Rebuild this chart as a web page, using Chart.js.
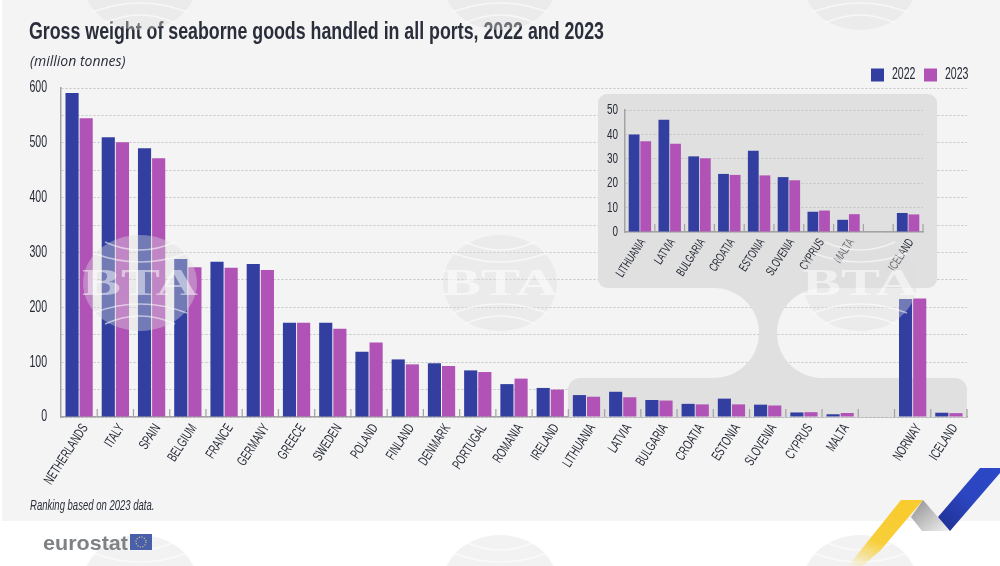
<!DOCTYPE html>
<html lang="en">
<head>
<meta charset="UTF-8">
<title>Gross weight of seaborne goods handled in all ports, 2022 and 2023</title>
<script src="https://cdn.jsdelivr.net/npm/chart.js"></script>
<style>
    html, body { margin: 0; padding: 0; background: #fff; overflow: hidden; }
    body { width: 1000px; height: 566px; position: relative; font-family: "Liberation Sans", sans-serif; color: #2a2e3a; }
    canvas { position: absolute; }
    #mainChart { left: 0; top: 0; }
    #insetChart { left: 599px; top: 94px; }
    .txt { position: absolute; white-space: nowrap; transform-origin: left top; }
    #title { left: 29px; top: 18px; font-size: 23px; font-weight: bold; transform: scaleX(0.773); }
    #unit { left: 30px; top: 51px; font-size: 14px; font-style: italic; font-family: "Open Sans", sans-serif; }
    #note { left: 30px; top: 497px; font-size: 14px; font-style: italic; transform: scaleX(0.68); }
    #overlay { position: absolute; left: 0; top: 0; pointer-events: none; }
</style>
</head>
<body>
<canvas id="mainChart" width="1000" height="566" style="width:1000px;height:566px"></canvas>
<canvas id="insetChart" width="338" height="194" style="width:338px;height:194px"></canvas>
<div class="txt" id="title">Gross weight of seaborne goods handled in all ports, 2022 and 2023</div>
<div class="txt" id="unit">(million tonnes)</div>
<div class="txt" id="note">Ranking based on 2023 data.</div>

<svg id="overlay" width="1000" height="566" viewBox="0 0 1000 566">
    <defs>
        <linearGradient id="fadeYellow" x1="0" y1="1" x2="0.45" y2="0">
            <stop offset="0" stop-color="#f8cf3a" stop-opacity="0"/>
            <stop offset="0.45" stop-color="#f8cf3a"/>
            <stop offset="1" stop-color="#f8cb2e"/>
        </linearGradient>
        <linearGradient id="fadeGray" x1="0" y1="0" x2="1" y2="1">
            <stop offset="0" stop-color="#8f8f8f"/>
            <stop offset="1" stop-color="#f2f2f2"/>
        </linearGradient>
        <linearGradient id="fadeBlue" x1="0" y1="1" x2="1" y2="0">
            <stop offset="0" stop-color="#1f2f8f"/>
            <stop offset="0.5" stop-color="#2c45c0"/>
            <stop offset="1" stop-color="#2c48c8"/>
        </linearGradient>
        <g id="bta">
            <ellipse cx="0" cy="0" rx="57" ry="48" fill="#dcdcdc" fill-opacity="0.38"/>
            <path d="M-35 -41 Q0 -25 35 -41 M-47 -30 Q0 -12 47 -30 M-47 30 Q0 12 47 30 M-35 41 Q0 25 35 41"
                  fill="none" stroke="#fff" stroke-opacity="0.55" stroke-width="1.6"/>
            <text x="0" y="12" text-anchor="middle" font-family="Liberation Serif" font-weight="bold" font-size="38"
                  textLength="116" lengthAdjust="spacingAndGlyphs" fill="#fff" fill-opacity="0.5">BTA</text>
        </g>
    </defs>
    <use href="#bta" x="140" y="-18"/><use href="#bta" x="500" y="-18"/><use href="#bta" x="860" y="-18"/>
    <use href="#bta" x="140" y="283"/><use href="#bta" x="500" y="283"/><use href="#bta" x="860" y="283"/>
    <use href="#bta" x="140" y="583"/><use href="#bta" x="500" y="583"/><use href="#bta" x="860" y="583"/>

    <polygon points="901,500 923,500 880,551 862,566 848,566" fill="url(#fadeYellow)"/>
    <polygon points="923,500 950,531 922,531 911,517" fill="url(#fadeGray)"/>
    <polygon points="980,468 1000,468 1000,473 950,531 938,517" fill="url(#fadeBlue)"/>

    <text x="43" y="550" font-family="Liberation Sans" font-weight="bold" font-size="21" textLength="85" lengthAdjust="spacingAndGlyphs" fill="#7f8285">eurostat</text>
    <rect x="130" y="534" width="22" height="16" fill="#4a5faa"/>
    <circle cx="141" cy="542" r="5" fill="none" stroke="#e3d67a" stroke-width="1.2" stroke-dasharray="1 1.6"/>
</svg>

<script>
    const categories = ['NETHERLANDS', 'ITALY', 'SPAIN', 'BELGIUM', 'FRANCE', 'GERMANY', 'GREECE', 'SWEDEN', 'POLAND', 'FINLAND', 'DENMARK', 'PORTUGAL', 'ROMANIA', 'IRELAND', 'LITHUANIA', 'LATVIA', 'BULGARIA', 'CROATIA', 'ESTONIA', 'SLOVENIA', 'CYPRUS', 'MALTA', '', 'NORWAY', 'ICELAND'];
    const values2022 = [591, 510, 490, 288, 283, 279, 172, 172, 119, 105, 98, 85, 60, 53, 40, 46, 31, 24, 33.5, 22.5, 8.3, 5, null, 215, 7.8];
    const values2023 = [545, 501, 472, 273, 272, 268, 172, 161, 136, 96, 93, 82, 70, 50, 37, 36, 30, 23, 23, 21, 8.8, 7.3, null, 216, 7];

    const insetCategories = ['LITHUANIA', 'LATVIA', 'BULGARIA', 'CROATIA', 'ESTONIA', 'SLOVENIA', 'CYPRUS', 'MALTA', '', 'ICELAND'];
    const insetValues2022 = [40, 46, 31, 23.8, 33.3, 22.5, 8.3, 5, null, 7.8];
    const insetValues2023 = [37.2, 36.2, 30.2, 23.4, 23.2, 21.2, 8.8, 7.3, null, 7.2];

    const seriesNames = ['2022', '2023'];
    const mainTicks = [0, 100, 200, 300, 400, 500, 600];

    const BLUE = '#333fa0';
    const PURPLE = '#b052b6';
    const AXIS = '#a3a3a3';
    const GRID = '#c4c4c4';
    const PANEL = '#f4f4f4';
    const GRAY = '#e0e0e0';
    const FONT = '"Liberation Sans", sans-serif';
    const TEXT = '#262a35';
    const NARROW = 0.66;

    // no condensed font is installed, so squeeze all chart text horizontally
    const narrowText = {
        id: 'narrowText',
        beforeInit(chart) {
            const ctx = chart.ctx;
            const fill = ctx.fillText.bind(ctx);
            const measure = ctx.measureText.bind(ctx);
            ctx.fillText = function (t, x, y) {
                ctx.save();
                ctx.translate(x, y);
                ctx.scale(NARROW, 1);
                fill(t, 0, 0);
                ctx.restore();
            };
            // whole pixels, the legend wraps on rounding errors otherwise
            ctx.measureText = function (t) {
                return { width: Math.ceil(measure(t).width * NARROW) };
            };
        }
    };

    // page panel behind the whole chart
    const panelPlugin = {
        id: 'panel',
        afterLayout(chart) {
            chart.legend.right += 10;
            chart.legend.top += 5;
        },
        beforeDraw(chart) {
            const ctx = chart.ctx;
            ctx.save();
            ctx.fillStyle = PANEL;
            ctx.fillRect(2, 0, 998, 521);
            ctx.restore();
        },
        // gray shapes tying the low bars to the zoomed chart, over the grid but under the bars
        beforeDatasetsDraw(chart) {
            const ctx = chart.ctx;
            ctx.save();
            ctx.fillStyle = GRAY;
            ctx.beginPath();
            ctx.roundRect(598, 94, 339, 194, 9);
            ctx.fill();
            ctx.beginPath();
            ctx.moveTo(700, 287);
            ctx.lineTo(714, 288);
            ctx.arc(714, 333, 45, -Math.PI / 2, Math.PI / 2);
            ctx.lineTo(580, 378);
            ctx.arcTo(568, 378, 568, 390, 12);
            ctx.lineTo(568, 417);
            ctx.lineTo(967, 417);
            ctx.lineTo(967, 390);
            ctx.arcTo(967, 378, 955, 378, 12);
            ctx.lineTo(822, 378);
            ctx.arc(822, 333, 45, Math.PI / 2, -Math.PI / 2);
            ctx.lineTo(830, 287);
            ctx.closePath();
            ctx.fill();
            ctx.restore();
        }
    };

    // short marks standing up from the axis between categories
    const sepTicks = {
        id: 'sepTicks',
        afterDatasetsDraw(chart) {
            const ctx = chart.ctx;
            const x = chart.scales.x;
            const step = x.getPixelForValue(1) - x.getPixelForValue(0);
            ctx.save();
            ctx.strokeStyle = AXIS;
            ctx.lineWidth = 1.2;
            ctx.beginPath();
            for (let i = 1; i <= chart.data.labels.length; i++) {
                const px = x.getPixelForValue(i) - step / 2;
                ctx.moveTo(px, x.top);
                ctx.lineTo(px, x.top - 8);
            }
            ctx.stroke();
            ctx.restore();
        }
    };

    function barSet(name, data, colour) {
        return { label: name, data: data, backgroundColor: colour, barPercentage: 0.93, categoryPercentage: 0.78 };
    }

    new Chart(document.getElementById('mainChart'), {
        type: 'bar',
        data: {
            labels: categories,
            datasets: [barSet(seriesNames[0], values2022, BLUE), barSet(seriesNames[1], values2023, PURPLE)]
        },
        plugins: [narrowText, panelPlugin, sepTicks],
        options: {
            responsive: false,
            animation: false,
            layout: { padding: { top: 54, right: 33, left: 0, bottom: 0 } },
            plugins: {
                tooltip: { enabled: false },
                legend: {
                    position: 'top',
                    align: 'end',
                    labels: { boxWidth: 13, boxHeight: 13, padding: 8, color: TEXT, font: { family: FONT, size: 16 } }
                }
            },
            scales: {
                x: {
                    afterFit(scale) { scale.height = 149; },
                    grid: { display: false },
                    border: { color: AXIS, width: 1.5 },
                    ticks: { autoSkip: false, minRotation: 57, maxRotation: 57, padding: -4, labelOffset: 6, color: TEXT, font: { family: FONT, size: 14 } }
                },
                y: {
                    afterFit(scale) { scale.width = 61; },
                    min: 0,
                    max: 600,
                    grid: { color: GRID, lineWidth: 1, drawTicks: false },
                    border: { color: AXIS, width: 1.5, dash: [2, 2] },
                    ticks: {
                        stepSize: 50,
                        padding: 14,
                        color: TEXT,
                        font: { family: FONT, size: 16 },
                        callback(v) { return mainTicks.includes(v) ? v : ''; }
                    }
                }
            }
        }
    });

    new Chart(document.getElementById('insetChart'), {
        type: 'bar',
        data: {
            labels: insetCategories,
            datasets: [barSet(seriesNames[0], insetValues2022, BLUE), barSet(seriesNames[1], insetValues2023, PURPLE)]
        },
        plugins: [narrowText, sepTicks],
        options: {
            responsive: false,
            animation: false,
            layout: { padding: { top: 14, right: 14, left: 0, bottom: 0 } },
            plugins: { tooltip: { enabled: false }, legend: { display: false } },
            scales: {
                x: {
                    afterFit(scale) { scale.height = 56; },
                    grid: { display: false },
                    border: { color: AXIS, width: 1.5 },
                    ticks: { autoSkip: false, minRotation: 57, maxRotation: 57, padding: -4, labelOffset: 3, color: TEXT, font: { family: FONT, size: 12.5 } }
                },
                y: {
                    afterFit(scale) { scale.width = 26; },
                    min: 0,
                    max: 50,
                    grid: { color: GRID, lineWidth: 1, drawTicks: false },
                    border: { color: AXIS, width: 1.5, dash: [2, 2] },
                    ticks: { stepSize: 10, padding: 7, color: TEXT, font: { family: FONT, size: 15 } }
                }
            }
        }
    });
</script>
</body>
</html>
